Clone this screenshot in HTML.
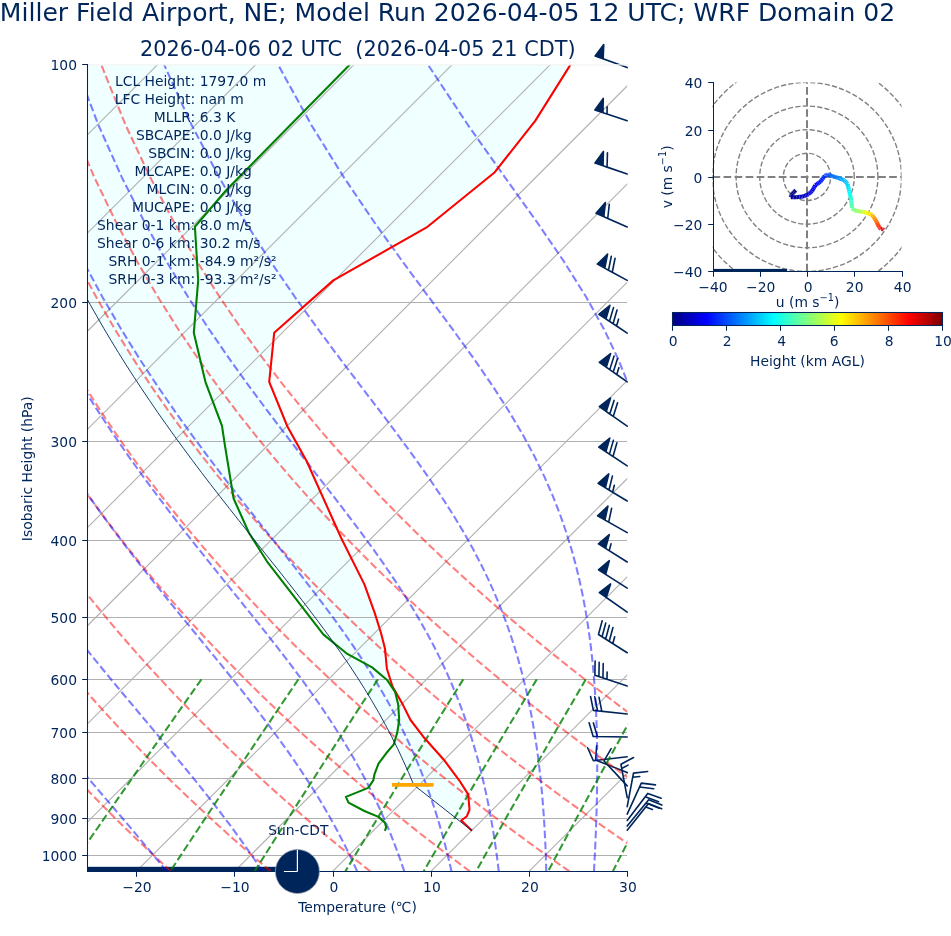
<!DOCTYPE html>
<html lang="en"><head><meta charset="utf-8"><title>Skew-T Miller Field Airport</title>
<style>html,body{margin:0;padding:0;background:#fff}svg{display:block;will-change:transform}</style></head>
<body>
<svg width="951" height="936" viewBox="0 0 951 936" font-family="'DejaVu Sans','Liberation Sans',sans-serif" fill="#00255a">
<rect width="951" height="936" fill="#fff"/>
<defs><clipPath id="ax"><rect x="87.20" y="64.40" width="540.00" height="807.00"/></clipPath>
<clipPath id="hd"><rect x="712.5" y="82.43" width="189" height="189"/></clipPath>
<linearGradient id="jet" x1="0" x2="1" y1="0" y2="0">
<stop offset="0.0000" stop-color="rgb(0,0,128)"/>
<stop offset="0.0156" stop-color="rgb(0,0,143)"/>
<stop offset="0.0312" stop-color="rgb(0,0,159)"/>
<stop offset="0.0469" stop-color="rgb(0,0,175)"/>
<stop offset="0.0625" stop-color="rgb(0,0,191)"/>
<stop offset="0.0781" stop-color="rgb(0,0,207)"/>
<stop offset="0.0938" stop-color="rgb(0,0,223)"/>
<stop offset="0.1094" stop-color="rgb(0,0,239)"/>
<stop offset="0.1250" stop-color="rgb(0,0,255)"/>
<stop offset="0.1406" stop-color="rgb(0,16,255)"/>
<stop offset="0.1562" stop-color="rgb(0,32,255)"/>
<stop offset="0.1719" stop-color="rgb(0,48,255)"/>
<stop offset="0.1875" stop-color="rgb(0,64,255)"/>
<stop offset="0.2031" stop-color="rgb(0,80,255)"/>
<stop offset="0.2188" stop-color="rgb(0,96,255)"/>
<stop offset="0.2344" stop-color="rgb(0,112,255)"/>
<stop offset="0.2500" stop-color="rgb(0,128,255)"/>
<stop offset="0.2656" stop-color="rgb(0,143,255)"/>
<stop offset="0.2812" stop-color="rgb(0,159,255)"/>
<stop offset="0.2969" stop-color="rgb(0,175,255)"/>
<stop offset="0.3125" stop-color="rgb(0,191,255)"/>
<stop offset="0.3281" stop-color="rgb(0,207,255)"/>
<stop offset="0.3438" stop-color="rgb(0,223,255)"/>
<stop offset="0.3594" stop-color="rgb(0,239,255)"/>
<stop offset="0.3750" stop-color="rgb(0,255,255)"/>
<stop offset="0.3906" stop-color="rgb(16,255,239)"/>
<stop offset="0.4062" stop-color="rgb(32,255,223)"/>
<stop offset="0.4219" stop-color="rgb(48,255,207)"/>
<stop offset="0.4375" stop-color="rgb(64,255,191)"/>
<stop offset="0.4531" stop-color="rgb(80,255,175)"/>
<stop offset="0.4688" stop-color="rgb(96,255,159)"/>
<stop offset="0.4844" stop-color="rgb(112,255,143)"/>
<stop offset="0.5000" stop-color="rgb(128,255,128)"/>
<stop offset="0.5156" stop-color="rgb(143,255,112)"/>
<stop offset="0.5312" stop-color="rgb(159,255,96)"/>
<stop offset="0.5469" stop-color="rgb(175,255,80)"/>
<stop offset="0.5625" stop-color="rgb(191,255,64)"/>
<stop offset="0.5781" stop-color="rgb(207,255,48)"/>
<stop offset="0.5938" stop-color="rgb(223,255,32)"/>
<stop offset="0.6094" stop-color="rgb(239,255,16)"/>
<stop offset="0.6250" stop-color="rgb(255,255,0)"/>
<stop offset="0.6406" stop-color="rgb(255,239,0)"/>
<stop offset="0.6562" stop-color="rgb(255,223,0)"/>
<stop offset="0.6719" stop-color="rgb(255,207,0)"/>
<stop offset="0.6875" stop-color="rgb(255,191,0)"/>
<stop offset="0.7031" stop-color="rgb(255,175,0)"/>
<stop offset="0.7188" stop-color="rgb(255,159,0)"/>
<stop offset="0.7344" stop-color="rgb(255,143,0)"/>
<stop offset="0.7500" stop-color="rgb(255,128,0)"/>
<stop offset="0.7656" stop-color="rgb(255,112,0)"/>
<stop offset="0.7812" stop-color="rgb(255,96,0)"/>
<stop offset="0.7969" stop-color="rgb(255,80,0)"/>
<stop offset="0.8125" stop-color="rgb(255,64,0)"/>
<stop offset="0.8281" stop-color="rgb(255,48,0)"/>
<stop offset="0.8438" stop-color="rgb(255,32,0)"/>
<stop offset="0.8594" stop-color="rgb(255,16,0)"/>
<stop offset="0.8750" stop-color="rgb(255,0,0)"/>
<stop offset="0.8906" stop-color="rgb(239,0,0)"/>
<stop offset="0.9062" stop-color="rgb(223,0,0)"/>
<stop offset="0.9219" stop-color="rgb(207,0,0)"/>
<stop offset="0.9375" stop-color="rgb(191,0,0)"/>
<stop offset="0.9531" stop-color="rgb(175,0,0)"/>
<stop offset="0.9688" stop-color="rgb(159,0,0)"/>
<stop offset="0.9844" stop-color="rgb(143,0,0)"/>
<stop offset="1.0000" stop-color="rgb(128,0,0)"/>
</linearGradient></defs>
<g clip-path="url(#ax)">
<polygon points="570.4,64.5 568.8,67.4 535.2,120.9 494.2,172.8 427.5,226.8 333.3,280.4 274.2,332.8 269.2,381.8 287.4,426.5 306.7,461.3 341.3,538.2 364.4,584.4 374.6,612.6 381.0,633.0 384.9,648.2 386.9,668.7 392.6,686.7 402.8,704.6 410.5,720.0 423.3,736.7 443.8,759.7 459.2,780.3 468.2,794.4 469.5,809.7 466.9,816.2 461.3,820.5 472.0,830.8 472.0,830.8 413.7,784.9 413.5,784.4 408.5,772.4 403.1,760.4 397.5,748.4 391.5,736.4 385.2,724.4 378.6,712.4 371.6,700.4 364.3,688.4 356.7,676.4 348.8,664.4 340.5,652.4 332.0,640.4 323.3,628.4 314.3,616.4 305.2,604.4 295.9,592.4 286.5,580.4 277.0,568.4 267.4,556.4 257.9,544.4 248.3,532.4 238.8,520.4 229.3,508.4 219.9,496.4 210.6,484.4 201.4,472.4 192.4,460.4 183.5,448.4 174.7,436.4 166.2,424.4 157.7,412.4 149.5,400.4 141.4,388.4 133.5,376.4 125.8,364.4 118.3,352.4 111.0,340.4 103.8,328.4 96.9,316.4 90.1,304.4 83.5,292.4 77.1,280.4 70.8,268.4 64.8,256.4 58.9,244.4 53.2,232.4 47.7,220.4 42.3,208.4 37.1,196.4 32.1,184.4 27.3,172.4 22.6,160.4 18.1,148.4 13.8,136.4 9.6,124.4 5.6,112.4 1.7,100.4 -2.0,88.4 -5.6,76.4 -8.9,64.4" fill="#f0ffff"/>
</g>
<g clip-path="url(#ax)" stroke="#b0b0b0" stroke-width="1.11" fill="none">
<line x1="87.20" y1="302.50" x2="627.20" y2="302.50"/>
<line x1="87.20" y1="441.50" x2="627.20" y2="441.50"/>
<line x1="87.20" y1="540.50" x2="627.20" y2="540.50"/>
<line x1="87.20" y1="617.50" x2="627.20" y2="617.50"/>
<line x1="87.20" y1="679.50" x2="627.20" y2="679.50"/>
<line x1="87.20" y1="732.50" x2="627.20" y2="732.50"/>
<line x1="87.20" y1="778.50" x2="627.20" y2="778.50"/>
<line x1="87.20" y1="818.50" x2="627.20" y2="818.50"/>
<line x1="87.20" y1="855.50" x2="627.20" y2="855.50"/>
<line x1="-1140.07" y1="871.40" x2="-333.07" y2="64.40"/>
<line x1="-1041.89" y1="871.40" x2="-234.89" y2="64.40"/>
<line x1="-943.71" y1="871.40" x2="-136.71" y2="64.40"/>
<line x1="-845.53" y1="871.40" x2="-38.53" y2="64.40"/>
<line x1="-747.35" y1="871.40" x2="59.65" y2="64.40"/>
<line x1="-649.16" y1="871.40" x2="157.84" y2="64.40"/>
<line x1="-550.98" y1="871.40" x2="256.02" y2="64.40"/>
<line x1="-452.80" y1="871.40" x2="354.20" y2="64.40"/>
<line x1="-354.62" y1="871.40" x2="452.38" y2="64.40"/>
<line x1="-256.44" y1="871.40" x2="550.56" y2="64.40"/>
<line x1="-158.25" y1="871.40" x2="648.75" y2="64.40"/>
<line x1="-60.07" y1="871.40" x2="746.93" y2="64.40"/>
<line x1="38.11" y1="871.40" x2="845.11" y2="64.40"/>
<line x1="136.29" y1="871.40" x2="943.29" y2="64.40"/>
<line x1="234.47" y1="871.40" x2="1041.47" y2="64.40"/>
<line x1="332.65" y1="871.40" x2="1139.65" y2="64.40"/>
<line x1="430.84" y1="871.40" x2="1237.84" y2="64.40"/>
<line x1="529.02" y1="871.40" x2="1336.02" y2="64.40"/>
<line x1="627.20" y1="871.40" x2="1434.20" y2="64.40"/>
<line x1="725.38" y1="871.40" x2="1532.38" y2="64.40"/>
</g>
<g stroke="#00255a" stroke-width="1.6" fill="#00255a" stroke-linejoin="round">
<polygon points="627.20,67.40 595.16,55.94 603.75,44.56 603.17,58.81"/>
<polygon points="627.20,120.70 594.91,109.97 603.24,98.39 602.98,112.65 607.02,113.99 607.14,106.86 607.02,113.99"/>
<polygon points="627.20,174.00 595.00,163.00 603.42,151.49 603.05,165.75 607.07,167.13 607.45,152.87 607.07,167.13"/>
<polygon points="627.20,227.00 596.03,213.35 605.38,202.59 603.82,216.77 607.72,218.47 609.28,204.30 607.72,218.47"/>
<polygon points="627.20,280.40 597.33,264.09 607.59,254.18 604.80,268.17 608.53,270.21 611.32,256.22 608.53,270.21 612.27,272.25 615.06,258.26 612.27,272.25"/>
<polygon points="627.20,333.10 598.87,314.25 609.95,305.27 605.95,318.96 609.49,321.32 613.49,307.63 609.49,321.32 613.04,323.67 617.04,309.98 613.04,323.67 616.58,326.03 618.58,319.19 616.58,326.03"/>
<polygon points="627.20,381.80 599.30,362.31 610.59,353.59 606.28,367.18 609.76,369.62 614.07,356.02 609.76,369.62 613.25,372.06 617.56,358.46 613.25,372.06 616.74,374.49 618.89,367.69 616.74,374.49"/>
<polygon points="627.20,426.20 599.30,406.71 610.59,397.99 606.28,411.58 609.76,414.02 614.07,400.42 609.76,414.02 613.25,416.46 617.56,402.86 613.25,416.46"/>
<polygon points="627.20,465.80 598.78,447.08 609.82,438.05 605.89,451.76 609.44,454.10 613.37,440.39 609.44,454.10 612.99,456.44 616.92,442.73 612.99,456.44"/>
<polygon points="627.20,501.00 598.08,483.39 608.76,473.94 605.36,487.79 609.00,489.99 612.40,476.15 609.00,489.99 612.64,492.20 614.34,485.27 612.64,492.20"/>
<polygon points="627.20,532.60 597.56,515.88 607.96,506.11 604.97,520.06 608.68,522.15 611.66,508.20 608.68,522.15"/>
<polygon points="627.20,562.00 598.42,543.84 609.28,534.60 605.62,548.38 609.21,550.65 611.05,543.76 609.21,550.65"/>
<polygon points="627.20,588.10 598.47,569.87 609.35,560.65 605.65,574.43"/>
<polygon points="627.20,612.10 599.30,592.61 610.59,583.89 606.28,597.48"/>
<polygon points="627.20,652.70 598.47,634.47 602.17,620.70 598.47,634.47 602.06,636.75 605.76,622.97 602.06,636.75 605.65,639.03 609.35,625.25 605.65,639.03 609.24,641.31 612.94,627.53 609.24,641.31 612.83,643.58 614.68,636.70 612.83,643.58"/>
<polygon points="627.20,685.90 594.89,675.23 595.12,660.97 594.89,675.23 598.93,676.56 599.16,662.30 598.93,676.56 602.97,677.90 603.20,663.64 602.97,677.90 607.00,679.23 607.12,672.10 607.00,679.23"/>
<polygon points="627.20,714.00 593.36,710.42 590.56,696.44 593.36,710.42 597.59,710.87 594.79,696.89 597.59,710.87 601.82,711.32 599.02,697.33 601.82,711.32"/>
<polygon points="627.20,737.00 593.17,736.51 589.11,722.84 593.17,736.51 597.43,736.57 593.37,722.90 597.43,736.57"/>
<polygon points="627.20,756.80 593.40,760.77 587.59,747.75 593.40,760.77"/>
<polygon points="627.20,772.60 595.58,760.03 596.65,745.81 595.58,760.03"/>
<polygon points="627.20,785.90 604.05,760.96 611.14,748.58 604.05,760.96"/>
<polygon points="627.20,797.70 620.95,764.25 633.55,757.57 620.95,764.25 621.73,768.43 628.03,765.09 621.73,768.43"/>
<polygon points="627.20,806.60 633.47,773.15 647.63,771.48 633.47,773.15 632.69,777.33 639.77,776.50 632.69,777.33"/>
<polygon points="627.20,814.10 641.30,783.13 655.46,784.90 641.30,783.13 639.54,787.00 653.69,788.77 639.54,787.00"/>
<polygon points="627.20,820.50 647.78,793.40 661.19,798.24 647.78,793.40 645.21,796.79 658.62,801.63 645.21,796.79"/>
<polygon points="627.20,826.10 648.67,799.70 661.91,804.98 648.67,799.70 645.98,803.00 659.23,808.28 645.98,803.00"/>
<polygon points="627.20,830.20 648.42,803.60 661.71,808.76 648.42,803.60 645.77,806.92 652.42,809.50 645.77,806.92"/>
</g>
<rect x="87.20" y="866.8" width="190" height="5.2" fill="#00255a"/>
<g clip-path="url(#ax)" fill="none" stroke-width="2.08" stroke-dasharray="7.71 3.33">
<g stroke="#ff0000" stroke-opacity="0.5">
<polyline points="-27.94,871.40 -33.87,865.00 -39.85,858.49 -45.87,851.84 -51.94,845.07 -58.06,838.16 -64.22,831.10 -70.44,823.90 -76.70,816.54 -83.02,809.03 -89.39,801.34 -95.81,793.48 -102.29,785.43 -108.82,777.19 -115.41,768.75 -122.05,760.10 -128.76,751.22 -135.52,742.11 -142.34,732.74 -149.22,723.12 -156.16,713.21 -163.17,703.02 -170.23,692.51 -177.36,681.66 -184.55,670.47 -191.81,658.90 -199.13,646.92 -206.51,634.51 -213.95,621.63 -221.46,608.25 -229.02,594.33 -236.64,579.83 -244.31,564.68 -252.03,548.83 -259.79,532.21 -267.59,514.75 -275.41,496.35 -283.24,476.91 -291.06,456.30 -298.86,434.37 -306.59,410.95 -314.22,385.81 -321.69,358.68 -328.92,329.22 -335.82,297.00 -342.24,261.43 -347.95,221.74 -352.64,176.86 -355.79,125.22 -356.54,64.40"/>
<polyline points="71.62,871.40 65.16,865.00 58.65,858.49 52.08,851.84 45.46,845.07 38.79,838.16 32.05,831.10 25.26,823.90 18.41,816.54 11.50,809.03 4.53,801.34 -2.51,793.48 -9.61,785.43 -16.77,777.19 -24.00,768.75 -31.31,760.10 -38.68,751.22 -46.12,742.11 -53.63,732.74 -61.22,723.12 -68.89,713.21 -76.63,703.02 -84.45,692.51 -92.35,681.66 -100.33,670.47 -108.39,658.90 -116.54,646.92 -124.77,634.51 -133.08,621.63 -141.48,608.25 -149.97,594.33 -158.53,579.83 -167.19,564.68 -175.92,548.83 -184.73,532.21 -193.61,514.75 -202.55,496.35 -211.55,476.91 -220.59,456.30 -229.66,434.37 -238.73,410.95 -247.76,385.81 -256.72,358.68 -265.53,329.22 -274.11,297.00 -282.32,261.43 -289.98,221.74 -296.80,176.86 -302.29,125.22 -305.69,64.40"/>
<polyline points="171.18,871.40 164.19,865.00 157.14,858.49 150.04,851.84 142.86,845.07 135.63,838.16 128.33,831.10 120.96,823.90 113.53,816.54 106.02,809.03 98.45,801.34 90.80,793.48 83.08,785.43 75.28,777.19 67.40,768.75 59.44,760.10 51.41,751.22 43.28,742.11 35.07,732.74 26.78,723.12 18.39,713.21 9.91,703.02 1.34,692.51 -7.33,681.66 -16.10,670.47 -24.97,658.90 -33.95,646.92 -43.03,634.51 -52.21,621.63 -61.51,608.25 -70.91,594.33 -80.43,579.83 -90.06,564.68 -99.80,548.83 -109.66,532.21 -119.62,514.75 -129.69,496.35 -139.86,476.91 -150.12,456.30 -160.47,434.37 -170.87,410.95 -181.31,385.81 -191.75,358.68 -202.13,329.22 -212.39,297.00 -222.41,261.43 -232.01,221.74 -240.95,176.86 -248.80,125.22 -254.84,64.40"/>
<polyline points="270.74,871.40 263.22,865.00 255.64,858.49 247.99,851.84 240.26,845.07 232.47,838.16 224.60,831.10 216.66,823.90 208.64,816.54 200.55,809.03 192.37,801.34 184.11,793.48 175.76,785.43 167.33,777.19 158.81,768.75 150.19,760.10 141.49,751.22 132.68,742.11 123.78,732.74 114.77,723.12 105.67,713.21 96.45,703.02 87.12,692.51 77.68,681.66 68.12,670.47 58.44,658.90 48.64,646.92 38.71,634.51 28.66,621.63 18.46,608.25 8.14,594.33 -2.33,579.83 -12.94,564.68 -23.69,548.83 -34.59,532.21 -45.64,514.75 -56.83,496.35 -68.17,476.91 -79.65,456.30 -91.27,434.37 -103.01,410.95 -114.85,385.81 -126.78,358.68 -138.74,329.22 -150.67,297.00 -162.49,261.43 -174.04,221.74 -185.11,176.86 -195.30,125.22 -203.98,64.40"/>
<polyline points="370.30,871.40 362.26,865.00 354.14,858.49 345.94,851.84 337.67,845.07 329.31,838.16 320.88,831.10 312.36,823.90 303.76,816.54 295.07,809.03 286.29,801.34 277.41,793.48 268.45,785.43 259.38,777.19 250.21,768.75 240.94,760.10 231.57,751.22 222.08,742.11 212.49,732.74 202.77,723.12 192.94,713.21 182.99,703.02 172.90,692.51 162.69,681.66 152.35,670.47 141.86,658.90 131.23,646.92 120.45,634.51 109.52,621.63 98.44,608.25 87.19,594.33 75.77,579.83 64.19,564.68 52.42,548.83 40.48,532.21 28.35,514.75 16.03,496.35 3.52,476.91 -9.18,456.30 -22.07,434.37 -35.15,410.95 -48.40,385.81 -61.81,358.68 -75.34,329.22 -88.95,297.00 -102.57,261.43 -116.07,221.74 -129.26,176.86 -141.81,125.22 -153.13,64.40"/>
<polyline points="469.86,871.40 461.29,865.00 452.63,858.49 443.89,851.84 435.07,845.07 426.16,838.16 417.15,831.10 408.06,823.90 398.87,816.54 389.59,809.03 380.21,801.34 370.72,793.48 361.13,785.43 351.43,777.19 341.62,768.75 331.69,760.10 321.65,751.22 311.48,742.11 301.19,732.74 290.77,723.12 280.22,713.21 269.52,703.02 258.69,692.51 247.71,681.66 236.57,670.47 225.28,658.90 213.82,646.92 202.19,634.51 190.39,621.63 178.41,608.25 166.24,594.33 153.88,579.83 141.31,564.68 128.54,548.83 115.54,532.21 102.33,514.75 88.89,496.35 75.21,476.91 61.29,456.30 47.12,434.37 32.71,410.95 18.05,385.81 3.16,358.68 -11.94,329.22 -27.24,297.00 -42.65,261.43 -58.10,221.74 -73.42,176.86 -88.32,125.22 -102.28,64.40"/>
<polyline points="569.42,871.40 560.32,865.00 551.13,858.49 541.84,851.84 532.47,845.07 523.00,838.16 513.43,831.10 503.76,823.90 493.99,816.54 484.11,809.03 474.13,801.34 464.03,793.48 453.81,785.43 443.48,777.19 433.02,768.75 422.44,760.10 411.73,751.22 400.88,742.11 389.90,732.74 378.77,723.12 367.49,713.21 356.06,703.02 344.47,692.51 332.72,681.66 320.79,670.47 308.69,658.90 296.41,646.92 283.94,634.51 271.26,621.63 258.39,608.25 245.29,594.33 231.98,579.83 218.43,564.68 204.65,548.83 190.61,532.21 176.31,514.75 161.75,496.35 146.90,476.91 131.76,456.30 116.32,434.37 100.57,410.95 84.51,385.81 68.13,358.68 51.45,329.22 34.48,297.00 17.26,261.43 -0.13,221.74 -17.57,176.86 -34.82,125.22 -51.43,64.40"/>
<polyline points="668.98,871.40 659.35,865.00 649.62,858.49 639.80,851.84 629.87,845.07 619.84,838.16 609.71,831.10 599.46,823.90 589.11,816.54 578.63,809.03 568.05,801.34 557.33,793.48 546.50,785.43 535.53,777.19 524.43,768.75 513.19,760.10 501.81,751.22 490.28,742.11 478.60,732.74 466.77,723.12 454.77,713.21 442.60,703.02 430.26,692.51 417.73,681.66 405.02,670.47 392.11,658.90 379.00,646.92 365.68,634.51 352.13,621.63 338.36,608.25 324.35,594.33 310.08,579.83 295.56,564.68 280.76,548.83 265.68,532.21 250.30,514.75 234.61,496.35 218.59,476.91 202.23,456.30 185.51,434.37 168.43,410.95 150.96,385.81 133.10,358.68 114.85,329.22 96.20,297.00 77.18,261.43 57.84,221.74 38.27,176.86 18.67,125.22 -0.57,64.40"/>
<polyline points="768.54,871.40 758.38,865.00 748.12,858.49 737.75,851.84 727.27,845.07 716.68,838.16 705.98,831.10 695.16,823.90 684.22,816.54 673.16,809.03 661.97,801.34 650.64,793.48 639.18,785.43 627.58,777.19 615.84,768.75 603.94,760.10 591.89,751.22 579.68,742.11 567.31,732.74 554.77,723.12 542.04,713.21 529.14,703.02 516.04,692.51 502.75,681.66 489.24,670.47 475.53,658.90 461.59,646.92 447.42,634.51 433.00,621.63 418.33,608.25 403.40,594.33 388.19,579.83 372.68,564.68 356.87,548.83 340.75,532.21 324.28,514.75 307.47,496.35 290.28,476.91 272.70,456.30 254.71,434.37 236.29,410.95 217.42,385.81 198.07,358.68 178.24,329.22 157.92,297.00 137.10,261.43 115.81,221.74 94.11,176.86 72.17,125.22 50.28,64.40"/>
<polyline points="868.10,871.40 857.41,865.00 846.61,858.49 835.70,851.84 824.67,845.07 813.53,838.16 802.26,831.10 790.86,823.90 779.34,816.54 767.68,809.03 755.88,801.34 743.95,793.48 731.86,785.43 719.63,777.19 707.24,768.75 694.69,760.10 681.97,751.22 669.08,742.11 656.02,732.74 642.76,723.12 629.32,713.21 615.68,703.02 601.82,692.51 587.76,681.66 573.47,670.47 558.95,658.90 544.18,646.92 529.16,634.51 513.87,621.63 498.31,608.25 482.45,594.33 466.29,579.83 449.81,564.68 432.99,548.83 415.81,532.21 398.27,514.75 380.33,496.35 361.97,476.91 343.17,456.30 323.90,434.37 304.15,410.95 283.87,385.81 263.04,358.68 241.64,329.22 219.64,297.00 197.02,261.43 173.78,221.74 149.96,176.86 125.66,125.22 101.13,64.40"/>
</g>
<g stroke="#0000ff" stroke-opacity="0.5">
<polyline points="-28.82,871.40 -34.39,865.00 -40.03,858.49 -45.74,851.84 -51.53,845.07 -57.39,838.16 -63.32,831.10 -69.33,823.90 -75.41,816.54 -81.56,809.03 -87.78,801.34 -94.07,793.48 -100.43,785.43 -106.86,777.19 -113.36,768.75 -119.94,760.10 -126.58,751.22 -133.29,742.11 -140.07,732.74 -146.92,723.12 -153.84,713.21 -160.83,703.02 -167.88,692.51 -175.01,681.66 -182.20,670.47 -189.46,658.90 -196.79,646.92 -204.19,634.51 -211.65,621.63 -219.17,608.25 -226.75,594.33 -234.40,579.83 -242.09,564.68 -249.84,548.83 -257.63,532.21 -265.46,514.75 -273.31,496.35 -281.18,476.91 -289.03,456.30 -296.86,434.37 -304.63,410.95 -312.30,385.81 -319.81,358.68 -327.10,329.22 -334.05,297.00 -340.51,261.43 -346.28,221.74 -351.03,176.86 -354.24,125.22 -355.08,64.40"/>
<polyline points="69.49,871.40 63.90,865.00 58.20,858.49 52.40,851.84 46.48,845.07 40.45,838.16 34.31,831.10 28.07,823.90 21.71,816.54 15.25,809.03 8.68,801.34 2.01,793.48 -4.77,785.43 -11.65,777.19 -18.63,768.75 -25.72,760.10 -32.90,751.22 -40.19,742.11 -47.58,732.74 -55.06,723.12 -62.65,713.21 -70.33,703.02 -78.11,692.51 -85.98,681.66 -93.96,670.47 -102.02,658.90 -110.19,646.92 -118.44,634.51 -126.80,621.63 -135.24,608.25 -143.78,594.33 -152.41,579.83 -161.12,564.68 -169.93,548.83 -178.81,532.21 -187.77,514.75 -196.80,496.35 -205.89,476.91 -215.03,456.30 -224.20,434.37 -233.37,410.95 -242.51,385.81 -251.59,358.68 -260.52,329.22 -269.23,297.00 -277.59,261.43 -285.41,221.74 -292.39,176.86 -298.07,125.22 -301.68,64.40"/>
<polyline points="166.67,871.40 161.51,865.00 156.19,858.49 150.71,851.84 145.09,845.07 139.30,838.16 133.36,831.10 127.26,823.90 121.00,816.54 114.58,809.03 108.01,801.34 101.27,793.48 94.37,785.43 87.31,777.19 80.10,768.75 72.73,760.10 65.20,751.22 57.53,742.11 49.70,732.74 41.72,723.12 33.59,713.21 25.31,703.02 16.90,692.51 8.33,681.66 -0.37,670.47 -9.21,658.90 -18.19,646.92 -27.30,634.51 -36.56,621.63 -45.94,608.25 -55.46,594.33 -65.11,579.83 -74.89,564.68 -84.80,548.83 -94.84,532.21 -105.00,514.75 -115.28,496.35 -125.68,476.91 -136.17,456.30 -146.77,434.37 -157.43,410.95 -168.15,385.81 -178.88,358.68 -189.58,329.22 -200.17,297.00 -210.54,261.43 -220.53,221.74 -229.89,176.86 -238.20,125.22 -244.77,64.40"/>
<polyline points="262.47,871.40 258.24,865.00 253.84,858.49 249.27,851.84 244.51,845.07 239.57,838.16 234.43,831.10 229.09,823.90 223.54,816.54 217.78,809.03 211.80,801.34 205.60,793.48 199.17,785.43 192.51,777.19 185.62,768.75 178.50,760.10 171.13,751.22 163.53,742.11 155.69,732.74 147.61,723.12 139.30,713.21 130.75,703.02 121.97,692.51 112.96,681.66 103.73,670.47 94.27,658.90 84.60,646.92 74.71,634.51 64.61,621.63 54.30,608.25 43.80,594.33 33.09,579.83 22.18,564.68 11.09,548.83 -0.20,532.21 -11.68,514.75 -23.34,496.35 -35.19,476.91 -47.21,456.30 -59.39,434.37 -71.74,410.95 -84.22,385.81 -96.83,358.68 -109.51,329.22 -122.22,297.00 -134.86,261.43 -147.32,221.74 -159.36,176.86 -170.64,125.22 -180.54,64.40"/>
<polyline points="357.15,871.40 354.26,865.00 351.23,858.49 348.04,851.84 344.69,845.07 341.16,838.16 337.45,831.10 333.55,823.90 329.45,816.54 325.12,809.03 320.57,801.34 315.77,793.48 310.72,785.43 305.40,777.19 299.80,768.75 293.90,760.10 287.70,751.22 281.17,742.11 274.31,732.74 267.11,723.12 259.56,713.21 251.64,703.02 243.35,692.51 234.69,681.66 225.65,670.47 216.24,658.90 206.44,646.92 196.27,634.51 185.73,621.63 174.83,608.25 163.57,594.33 151.95,579.83 140.00,564.68 127.72,548.83 115.12,532.21 102.21,514.75 88.99,496.35 75.47,476.91 61.66,456.30 47.57,434.37 33.21,410.95 18.57,385.81 3.69,358.68 -11.42,329.22 -26.71,297.00 -42.15,261.43 -57.61,221.74 -72.94,176.86 -87.86,125.22 -101.85,64.40"/>
<polyline points="404.30,871.40 402.14,865.00 399.87,858.49 397.46,851.84 394.92,845.07 392.23,838.16 389.39,831.10 386.38,823.90 383.19,816.54 379.82,809.03 376.23,801.34 372.43,793.48 368.39,785.43 364.10,777.19 359.55,768.75 354.71,760.10 349.56,751.22 344.09,742.11 338.27,732.74 332.09,723.12 325.53,713.21 318.56,703.02 311.16,692.51 303.33,681.66 295.03,670.47 286.26,658.90 277.01,646.92 267.27,634.51 257.03,621.63 246.29,608.25 235.06,594.33 223.34,579.83 211.14,564.68 198.47,548.83 185.34,532.21 171.78,514.75 157.79,496.35 143.39,476.91 128.59,456.30 113.41,434.37 97.86,410.95 81.94,385.81 65.68,358.68 49.09,329.22 32.20,297.00 15.06,261.43 -2.26,221.74 -19.62,176.86 -36.78,125.22 -53.29,64.40"/>
<polyline points="451.48,871.40 450.04,865.00 448.51,858.49 446.88,851.84 445.16,845.07 443.32,838.16 441.36,831.10 439.27,823.90 437.04,816.54 434.66,809.03 432.12,801.34 429.40,793.48 426.49,785.43 423.37,777.19 420.03,768.75 416.44,760.10 412.59,751.22 408.46,742.11 404.01,732.74 399.22,723.12 394.08,713.21 388.53,703.02 382.56,692.51 376.14,681.66 369.22,670.47 361.79,658.90 353.79,646.92 345.21,634.51 336.02,621.63 326.18,608.25 315.68,594.33 304.52,579.83 292.67,564.68 280.13,548.83 266.93,532.21 253.07,514.75 238.56,496.35 223.44,476.91 207.73,456.30 191.45,434.37 174.63,410.95 157.30,385.81 139.46,358.68 121.15,329.22 102.40,297.00 83.23,261.43 63.70,221.74 43.92,176.86 24.09,125.22 4.58,64.40"/>
<polyline points="498.78,871.40 498.01,865.00 497.18,858.49 496.29,851.84 495.33,845.07 494.29,838.16 493.17,831.10 491.96,823.90 490.66,816.54 489.25,809.03 487.73,801.34 486.08,793.48 484.29,785.43 482.36,777.19 480.27,768.75 477.99,760.10 475.52,751.22 472.83,742.11 469.90,732.74 466.71,723.12 463.23,713.21 459.42,703.02 455.26,692.51 450.72,681.66 445.73,670.47 440.27,658.90 434.29,646.92 427.72,634.51 420.52,621.63 412.63,608.25 403.98,594.33 394.53,579.83 384.21,564.68 372.99,548.83 360.81,532.21 347.66,514.75 333.53,496.35 318.42,476.91 302.34,456.30 285.35,434.37 267.47,410.95 248.76,385.81 229.26,358.68 209.02,329.22 188.09,297.00 166.50,261.43 144.31,221.74 121.60,176.86 98.50,125.22 75.32,64.40"/>
<polyline points="546.27,871.40 546.10,865.00 545.90,858.49 545.66,851.84 545.38,845.07 545.07,838.16 544.70,831.10 544.29,823.90 543.82,816.54 543.29,809.03 542.69,801.34 542.02,793.48 541.27,785.43 540.42,777.19 539.48,768.75 538.43,760.10 537.25,751.22 535.93,742.11 534.47,732.74 532.83,723.12 531.00,713.21 528.96,703.02 526.68,692.51 524.13,681.66 521.27,670.47 518.07,658.90 514.47,646.92 510.44,634.51 505.90,621.63 500.79,608.25 495.02,594.33 488.53,579.83 481.19,564.68 472.92,548.83 463.60,532.21 453.10,514.75 441.33,496.35 428.17,476.91 413.55,456.30 397.42,434.37 379.76,410.95 360.60,385.81 340.01,358.68 318.07,329.22 294.90,297.00 270.58,261.43 245.22,221.74 218.90,176.86 191.75,125.22 163.98,64.40"/>
<polyline points="593.97,871.40 594.32,865.00 594.66,858.49 594.99,851.84 595.31,845.07 595.61,838.16 595.89,831.10 596.16,823.90 596.40,816.54 596.62,809.03 596.82,801.34 596.98,793.48 597.11,785.43 597.19,777.19 597.23,768.75 597.23,760.10 597.16,751.22 597.03,742.11 596.82,732.74 596.53,723.12 596.15,713.21 595.65,703.02 595.03,692.51 594.26,681.66 593.33,670.47 592.21,658.90 590.87,646.92 589.27,634.51 587.38,621.63 585.14,608.25 582.49,594.33 579.37,579.83 575.69,564.68 571.34,548.83 566.20,532.21 560.14,514.75 552.96,496.35 544.47,476.91 534.44,456.30 522.61,434.37 508.72,410.95 492.52,385.81 473.83,358.68 452.55,329.22 428.70,297.00 402.44,261.43 373.98,221.74 343.58,176.86 311.47,125.22 277.89,64.40"/>
<polyline points="641.91,871.40 642.69,865.00 643.48,858.49 644.28,851.84 645.09,845.07 645.90,838.16 646.72,831.10 647.54,823.90 648.37,816.54 649.21,809.03 650.05,801.34 650.89,793.48 651.73,785.43 652.57,777.19 653.41,768.75 654.24,760.10 655.07,751.22 655.89,742.11 656.69,732.74 657.48,723.12 658.24,713.21 658.98,703.02 659.68,692.51 660.34,681.66 660.95,670.47 661.49,658.90 661.96,646.92 662.33,634.51 662.59,621.63 662.71,608.25 662.66,594.33 662.41,579.83 661.91,564.68 661.10,548.83 659.91,532.21 658.25,514.75 656.01,496.35 653.04,476.91 649.13,456.30 644.05,434.37 637.47,410.95 628.97,385.81 618.03,358.68 603.99,329.22 586.16,297.00 563.87,261.43 536.69,221.74 504.60,176.86 468.06,125.22 427.78,64.40"/>
<polyline points="690.07,871.40 691.20,865.00 692.36,858.49 693.53,851.84 694.73,845.07 695.95,838.16 697.20,831.10 698.47,823.90 699.77,816.54 701.09,809.03 702.43,801.34 703.81,793.48 705.21,785.43 706.64,777.19 708.09,768.75 709.58,760.10 711.09,751.22 712.64,742.11 714.21,732.74 715.82,723.12 717.45,713.21 719.12,703.02 720.81,692.51 722.53,681.66 724.28,670.47 726.05,658.90 727.85,646.92 729.66,634.51 731.49,621.63 733.33,608.25 735.16,594.33 736.99,579.83 738.79,564.68 740.55,548.83 742.23,532.21 743.82,514.75 745.27,496.35 746.52,476.91 747.49,456.30 748.07,434.37 748.12,410.95 747.42,385.81 745.65,358.68 742.37,329.22 736.91,297.00 728.25,261.43 714.91,221.74 694.80,176.86 665.52,125.22 625.38,64.40"/>
<polyline points="738.43,871.40 739.84,865.00 741.28,858.49 742.75,851.84 744.26,845.07 745.80,838.16 747.37,831.10 748.99,823.90 750.64,816.54 752.33,809.03 754.07,801.34 755.85,793.48 757.67,785.43 759.54,777.19 761.47,768.75 763.44,760.10 765.47,751.22 767.55,742.11 769.70,732.74 771.90,723.12 774.17,713.21 776.51,703.02 778.92,692.51 781.41,681.66 783.97,670.47 786.62,658.90 789.35,646.92 792.17,634.51 795.09,621.63 798.11,608.25 801.23,594.33 804.46,579.83 807.80,564.68 811.26,548.83 814.84,532.21 818.55,514.75 822.38,496.35 826.33,476.91 830.40,456.30 834.58,434.37 838.83,410.95 843.12,385.81 847.39,358.68 851.52,329.22 855.32,297.00 858.46,261.43 860.39,221.74 860.04,176.86 855.41,125.22 842.47,64.40"/>
<polyline points="786.97,871.40 788.59,865.00 790.24,858.49 791.94,851.84 793.67,845.07 795.45,838.16 797.28,831.10 799.15,823.90 801.07,816.54 803.04,809.03 805.06,801.34 807.14,793.48 809.28,785.43 811.48,777.19 813.74,768.75 816.07,760.10 818.47,751.22 820.95,742.11 823.50,732.74 826.14,723.12 828.86,713.21 831.68,703.02 834.59,692.51 837.61,681.66 840.75,670.47 844.00,658.90 847.37,646.92 850.88,634.51 854.54,621.63 858.35,608.25 862.33,594.33 866.48,579.83 870.83,564.68 875.40,548.83 880.19,532.21 885.23,514.75 890.54,496.35 896.15,476.91 902.09,456.30 908.40,434.37 915.10,410.95 922.25,385.81 929.89,358.68 938.07,329.22 946.85,297.00 956.27,261.43 966.37,221.74 977.10,176.86 988.28,125.22 999.23,64.40"/>
<polyline points="835.65,871.40 837.42,865.00 839.24,858.49 841.10,851.84 843.00,845.07 844.95,838.16 846.96,831.10 849.01,823.90 851.13,816.54 853.30,809.03 855.53,801.34 857.82,793.48 860.18,785.43 862.61,777.19 865.11,768.75 867.69,760.10 870.36,751.22 873.11,742.11 875.95,732.74 878.88,723.12 881.92,713.21 885.07,703.02 888.33,692.51 891.72,681.66 895.24,670.47 898.89,658.90 902.70,646.92 906.68,634.51 910.82,621.63 915.15,608.25 919.69,594.33 924.45,579.83 929.45,564.68 934.72,548.83 940.28,532.21 946.15,514.75 952.38,496.35 959.01,476.91 966.08,456.30 973.64,434.37 981.77,410.95 990.55,385.81 1000.07,358.68 1010.45,329.22 1021.86,297.00 1034.49,261.43 1048.59,221.74 1064.51,176.86 1082.71,125.22 1103.83,64.40"/>
</g>
<g stroke="#008000" stroke-opacity="0.8">
<polyline points="201.42,679.34 195.25,688.10 189.23,696.65 183.37,704.98 177.65,713.12 172.07,721.07 166.62,728.84 161.29,736.44 156.09,743.88 151.00,751.15 146.02,758.28 141.15,765.26 136.37,772.10 131.70,778.81 127.12,785.39 122.63,791.84 118.22,798.18 113.90,804.40 109.66,810.51 105.49,816.52 101.40,822.42 97.39,828.22 93.44,833.92 89.56,839.53 85.74,845.05 81.99,850.49 78.30,855.84 74.67,861.10 71.10,866.29 67.58,871.40"/>
<polyline points="298.38,679.34 292.45,688.10 286.68,696.65 281.05,704.98 275.57,713.12 270.21,721.07 264.99,728.84 259.88,736.44 254.90,743.88 250.02,751.15 245.25,758.28 240.58,765.26 236.01,772.10 231.53,778.81 227.15,785.39 222.85,791.84 218.63,798.18 214.49,804.40 210.44,810.51 206.45,816.52 202.54,822.42 198.70,828.22 194.92,833.92 191.21,839.53 187.57,845.05 183.98,850.49 180.45,855.84 176.98,861.10 173.57,866.29 170.21,871.40"/>
<polyline points="377.88,679.34 372.17,688.10 366.60,696.65 361.18,704.98 355.89,713.12 350.74,721.07 345.70,728.84 340.79,736.44 335.98,743.88 331.29,751.15 326.70,758.28 322.20,765.26 317.80,772.10 313.50,778.81 309.28,785.39 305.14,791.84 301.09,798.18 297.11,804.40 293.21,810.51 289.38,816.52 285.62,822.42 281.93,828.22 278.30,833.92 274.74,839.53 271.23,845.05 267.79,850.49 264.40,855.84 261.07,861.10 257.79,866.29 254.57,871.40"/>
<polyline points="463.25,679.34 457.77,688.10 452.43,696.65 447.24,704.98 442.17,713.12 437.23,721.07 432.41,728.84 427.71,736.44 423.11,743.88 418.62,751.15 414.22,758.28 409.93,765.26 405.72,772.10 401.60,778.81 397.57,785.39 393.62,791.84 389.74,798.18 385.94,804.40 382.22,810.51 378.56,816.52 374.97,822.42 371.44,828.22 367.98,833.92 364.58,839.53 361.24,845.05 357.95,850.49 354.72,855.84 351.55,861.10 348.42,866.29 345.34,871.40"/>
<polyline points="536.75,679.34 531.48,688.10 526.36,696.65 521.36,704.98 516.50,713.12 511.75,721.07 507.12,728.84 502.60,736.44 498.19,743.88 493.88,751.15 489.66,758.28 485.54,765.26 481.50,772.10 477.55,778.81 473.69,785.39 469.90,791.84 466.18,798.18 462.54,804.40 458.97,810.51 455.47,816.52 452.03,822.42 448.66,828.22 445.34,833.92 442.09,839.53 438.89,845.05 435.75,850.49 432.65,855.84 429.62,861.10 426.63,866.29 423.69,871.40"/>
<polyline points="585.83,679.34 580.71,688.10 575.72,696.65 570.86,704.98 566.13,713.12 561.52,721.07 557.02,728.84 552.63,736.44 548.35,743.88 544.16,751.15 540.06,758.28 536.06,765.26 532.14,772.10 528.31,778.81 524.55,785.39 520.88,791.84 517.27,798.18 513.74,804.40 510.28,810.51 506.88,816.52 503.55,822.42 500.28,828.22 497.06,833.92 493.91,839.53 490.81,845.05 487.76,850.49 484.77,855.84 481.82,861.10 478.93,866.29 476.08,871.40"/>
<polyline points="653.17,679.34 648.25,688.10 643.46,696.65 638.80,704.98 634.26,713.12 629.84,721.07 625.52,728.84 621.31,736.44 617.20,743.88 613.19,751.15 609.26,758.28 605.43,765.26 601.67,772.10 598.00,778.81 594.41,785.39 590.89,791.84 587.44,798.18 584.06,804.40 580.75,810.51 577.50,816.52 574.32,822.42 571.19,828.22 568.12,833.92 565.10,839.53 562.14,845.05 559.23,850.49 556.37,855.84 553.56,861.10 550.80,866.29 548.08,871.40"/>
<polyline points="713.63,679.34 708.89,688.10 704.29,696.65 699.81,704.98 695.44,713.12 691.19,721.07 687.04,728.84 683.00,736.44 679.05,743.88 675.20,751.15 671.43,758.28 667.75,765.26 664.15,772.10 660.63,778.81 657.19,785.39 653.81,791.84 650.51,798.18 647.27,804.40 644.10,810.51 640.99,816.52 637.93,822.42 634.94,828.22 632.00,833.92 629.12,839.53 626.28,845.05 623.50,850.49 620.76,855.84 618.08,861.10 615.43,866.29 612.84,871.40"/>
<polyline points="757.75,679.34 753.15,688.10 748.68,696.65 744.33,704.98 740.10,713.12 735.98,721.07 731.96,728.84 728.04,736.44 724.21,743.88 720.48,751.15 716.83,758.28 713.27,765.26 709.78,772.10 706.37,778.81 703.04,785.39 699.77,791.84 696.57,798.18 693.44,804.40 690.37,810.51 687.36,816.52 684.41,822.42 681.51,828.22 678.67,833.92 675.89,839.53 673.15,845.05 670.46,850.49 667.82,855.84 665.22,861.10 662.67,866.29 660.16,871.40"/>
</g>
</g>
<g clip-path="url(#ax)" fill="none" stroke-linejoin="round">
<polyline points="570.4,64.5 568.8,67.4 535.2,120.9 494.2,172.8 427.5,226.8 333.3,280.4 274.2,332.8 269.2,381.8 287.4,426.5 306.7,461.3 341.3,538.2 364.4,584.4 374.6,612.6 381.0,633.0 384.9,648.2 386.9,668.7 392.6,686.7 402.8,704.6 410.5,720.0 423.3,736.7 443.8,759.7 459.2,780.3 468.2,794.4 469.5,809.7 466.9,816.2 461.3,820.5 472.0,830.8" stroke="#ff0000" stroke-width="2.08"/>
<polyline points="350.0,64.5 347.0,67.4 226.4,190.0 194.9,226.7 198.2,280.3 193.8,332.8 205.4,381.8 222.0,425.9 224.6,443.3 233.6,498.5 249.0,533.0 266.9,561.3 292.6,594.6 323.3,634.4 346.4,653.3 372.1,667.4 387.4,680.3 395.1,691.8 398.2,704.6 399.2,720.0 397.2,732.8 393.8,744.4 386.2,753.3 378.5,763.6 374.6,773.8 373.3,780.3 368.2,787.9 345.9,796.9 348.5,802.6 364.4,811.0 378.5,816.9 384.9,822.6 386.2,827.2 384.9,830.8" stroke="#008000" stroke-width="2.08"/>
<polyline points="-8.9,64.4 -5.6,76.4 -2.0,88.4 1.7,100.4 5.6,112.4 9.6,124.4 13.8,136.4 18.1,148.4 22.6,160.4 27.3,172.4 32.1,184.4 37.1,196.4 42.3,208.4 47.7,220.4 53.2,232.4 58.9,244.4 64.8,256.4 70.8,268.4 77.1,280.4 83.5,292.4 90.1,304.4 96.9,316.4 103.8,328.4 111.0,340.4 118.3,352.4 125.8,364.4 133.5,376.4 141.4,388.4 149.5,400.4 157.7,412.4 166.2,424.4 174.7,436.4 183.5,448.4 192.4,460.4 201.4,472.4 210.6,484.4 219.9,496.4 229.3,508.4 238.8,520.4 248.3,532.4 257.9,544.4 267.4,556.4 277.0,568.4 286.5,580.4 295.9,592.4 305.2,604.4 314.3,616.4 323.3,628.4 332.0,640.4 340.5,652.4 348.8,664.4 356.7,676.4 364.3,688.4 371.6,700.4 378.6,712.4 385.2,724.4 391.5,736.4 397.5,748.4 403.1,760.4 408.5,772.4 413.5,784.4 413.7,784.9 472.0,830.8" stroke="#00255a" stroke-width="0.9"/>
<line x1="392" y1="784.9" x2="433.6" y2="784.9" stroke="#ffa500" stroke-width="3.6"/>
</g>
<path d="M87.20 64.90H627.20" stroke="#f3f3f3" stroke-width="1.1" fill="none"/>
<g stroke="#00255a" stroke-width="1.05" fill="none">
<line x1="87.50" y1="64.00" x2="87.50" y2="872.00"/>
<line x1="87.00" y1="871.50" x2="628.00" y2="871.50"/>
<line x1="82.20" y1="64.50" x2="87.50" y2="64.50"/>
<line x1="82.20" y1="302.50" x2="87.50" y2="302.50"/>
<line x1="82.20" y1="441.50" x2="87.50" y2="441.50"/>
<line x1="82.20" y1="540.50" x2="87.50" y2="540.50"/>
<line x1="82.20" y1="617.50" x2="87.50" y2="617.50"/>
<line x1="82.20" y1="679.50" x2="87.50" y2="679.50"/>
<line x1="82.20" y1="732.50" x2="87.50" y2="732.50"/>
<line x1="82.20" y1="778.50" x2="87.50" y2="778.50"/>
<line x1="82.20" y1="818.50" x2="87.50" y2="818.50"/>
<line x1="82.20" y1="855.50" x2="87.50" y2="855.50"/>
<line x1="136.50" y1="871.50" x2="136.50" y2="876.80"/>
<line x1="234.50" y1="871.50" x2="234.50" y2="876.80"/>
<line x1="333.50" y1="871.50" x2="333.50" y2="876.80"/>
<line x1="431.50" y1="871.50" x2="431.50" y2="876.80"/>
<line x1="529.50" y1="871.50" x2="529.50" y2="876.80"/>
<line x1="627.50" y1="871.50" x2="627.50" y2="876.80"/>
</g>
<g font-size="13.89px">
<text x="77.00" y="69.60" text-anchor="end">100</text>
<text x="77.00" y="307.60" text-anchor="end">200</text>
<text x="77.00" y="446.60" text-anchor="end">300</text>
<text x="77.00" y="545.60" text-anchor="end">400</text>
<text x="77.00" y="622.60" text-anchor="end">500</text>
<text x="77.00" y="684.60" text-anchor="end">600</text>
<text x="77.00" y="737.60" text-anchor="end">700</text>
<text x="77.00" y="783.60" text-anchor="end">800</text>
<text x="77.00" y="823.60" text-anchor="end">900</text>
<text x="77.00" y="860.60" text-anchor="end">1000</text>
<text x="136.90" y="891.95" text-anchor="middle">−20</text>
<text x="234.90" y="891.95" text-anchor="middle">−10</text>
<text x="333.90" y="891.95" text-anchor="middle">0</text>
<text x="431.90" y="891.95" text-anchor="middle">10</text>
<text x="529.90" y="891.95" text-anchor="middle">20</text>
<text x="627.90" y="891.95" text-anchor="middle">30</text>
<text x="357.5" y="911.5" text-anchor="middle">Temperature (℃)</text>
<text transform="translate(32.3,468.7) rotate(-90)" text-anchor="middle">Isobaric Height (hPa)</text>
</g>
<text x="447.5" y="21" font-size="25px" text-anchor="middle" textLength="895.3" lengthAdjust="spacingAndGlyphs">Miller Field Airport, NE; Model Run 2026-04-05 12 UTC; WRF Domain 02</text>
<text x="357.8" y="55.6" font-size="20.83px" text-anchor="middle" xml:space="preserve">2026-04-06 02 UTC  (2026-04-05 21 CDT)</text>
<g font-size="13.89px">
<text x="195.1" y="86.0" text-anchor="end">LCL Height:</text>
<text x="199.7" y="86.0">1797.0 m</text>
<text x="195.1" y="104.0" text-anchor="end">LFC Height:</text>
<text x="199.7" y="104.0">nan m</text>
<text x="195.1" y="122.0" text-anchor="end">MLLR:</text>
<text x="199.7" y="122.0">6.3 K</text>
<text x="195.1" y="140.0" text-anchor="end">SBCAPE:</text>
<text x="199.7" y="140.0">0.0 J/kg</text>
<text x="195.1" y="158.0" text-anchor="end">SBCIN:</text>
<text x="199.7" y="158.0">0.0 J/kg</text>
<text x="195.1" y="176.0" text-anchor="end">MLCAPE:</text>
<text x="199.7" y="176.0">0.0 J/kg</text>
<text x="195.1" y="194.0" text-anchor="end">MLCIN:</text>
<text x="199.7" y="194.0">0.0 J/kg</text>
<text x="195.1" y="212.0" text-anchor="end">MUCAPE:</text>
<text x="199.7" y="212.0">0.0 J/kg</text>
<text x="195.1" y="230.0" text-anchor="end">Shear 0-1 km:</text>
<text x="199.7" y="230.0">8.0 m/s</text>
<text x="195.1" y="248.0" text-anchor="end">Shear 0-6 km:</text>
<text x="199.7" y="248.0">30.2 m/s</text>
<text x="195.1" y="266.0" text-anchor="end">SRH 0-1 km:</text>
<text x="199.7" y="266.0">-84.9 m²/s²</text>
<text x="195.1" y="284.0" text-anchor="end">SRH 0-3 km:</text>
<text x="199.7" y="284.0">-93.3 m²/s²</text>
</g>
<circle cx="297.4" cy="871.5" r="22" fill="#00255a" stroke="#9aa3b5" stroke-width="0.8"/>
<path d="M297.4 871.5V850M297.4 871.5H283.9" stroke="#fff" stroke-width="1.2" fill="none"/>
<text x="298.3" y="834.9" font-size="13.89px" text-anchor="middle">Sun-CDT</text>
<g clip-path="url(#hd)" fill="none" stroke="#808080">
<circle transform="translate(807.00,176.93) scale(1,-1)" cx="0" cy="0" r="23.62" stroke-width="1.39" stroke-dasharray="5.14 2.22"/>
<circle transform="translate(807.00,176.93) scale(1,-1)" cx="0" cy="0" r="47.25" stroke-width="1.39" stroke-dasharray="5.14 2.22"/>
<circle transform="translate(807.00,176.93) scale(1,-1)" cx="0" cy="0" r="70.88" stroke-width="1.39" stroke-dasharray="5.14 2.22"/>
<circle transform="translate(807.00,176.93) scale(1,-1)" cx="0" cy="0" r="94.50" stroke-width="1.39" stroke-dasharray="5.14 2.22"/>
<circle transform="translate(807.00,176.93) scale(1,-1)" cx="0" cy="0" r="118.12" stroke-width="1.39" stroke-dasharray="5.14 2.22"/>
<line x1="712.50" y1="177.00" x2="901.50" y2="177.00" stroke-width="2" stroke-dasharray="7.71 3.33"/>
<line x1="807.00" y1="271.43" x2="807.00" y2="82.43" stroke-width="2" stroke-dasharray="7.71 3.33"/>
</g>
<g clip-path="url(#hd)" fill="none" stroke-width="4.1" stroke-linecap="butt">
<line x1="795.77" y1="190.28" x2="794.67" y2="191.39" stroke="rgb(0,0,129)"/>
<line x1="794.67" y1="191.39" x2="793.56" y2="192.49" stroke="rgb(0,0,131)"/>
<line x1="793.56" y1="192.49" x2="792.46" y2="193.60" stroke="rgb(0,0,134)"/>
<line x1="792.46" y1="193.60" x2="791.36" y2="194.70" stroke="rgb(0,0,136)"/>
<line x1="791.36" y1="194.70" x2="791.20" y2="195.33" stroke="rgb(0,0,139)"/>
<line x1="791.20" y1="195.33" x2="791.04" y2="195.96" stroke="rgb(0,0,142)"/>
<line x1="791.04" y1="195.96" x2="790.88" y2="196.59" stroke="rgb(0,0,144)"/>
<line x1="790.88" y1="196.59" x2="790.73" y2="197.22" stroke="rgb(0,0,147)"/>
<line x1="790.73" y1="197.22" x2="792.15" y2="197.22" stroke="rgb(0,0,150)"/>
<line x1="792.15" y1="197.22" x2="793.56" y2="197.22" stroke="rgb(0,0,156)"/>
<line x1="793.56" y1="197.22" x2="794.98" y2="197.22" stroke="rgb(0,0,161)"/>
<line x1="794.98" y1="197.22" x2="796.40" y2="197.22" stroke="rgb(0,0,166)"/>
<line x1="796.40" y1="197.22" x2="797.98" y2="197.07" stroke="rgb(0,0,171)"/>
<line x1="797.98" y1="197.07" x2="799.56" y2="196.91" stroke="rgb(0,0,176)"/>
<line x1="799.56" y1="196.91" x2="801.14" y2="196.75" stroke="rgb(0,0,181)"/>
<line x1="801.14" y1="196.75" x2="802.71" y2="196.59" stroke="rgb(0,0,186)"/>
<line x1="802.71" y1="196.59" x2="804.13" y2="196.03" stroke="rgb(0,0,191)"/>
<line x1="804.13" y1="196.03" x2="805.55" y2="195.46" stroke="rgb(0,0,196)"/>
<line x1="805.55" y1="195.46" x2="806.97" y2="194.89" stroke="rgb(0,0,201)"/>
<line x1="806.97" y1="194.89" x2="808.39" y2="194.32" stroke="rgb(0,0,207)"/>
<line x1="808.39" y1="194.32" x2="809.34" y2="193.47" stroke="rgb(0,0,212)"/>
<line x1="809.34" y1="193.47" x2="810.28" y2="192.62" stroke="rgb(0,0,217)"/>
<line x1="810.28" y1="192.62" x2="811.23" y2="191.77" stroke="rgb(0,0,222)"/>
<line x1="811.23" y1="191.77" x2="812.18" y2="190.91" stroke="rgb(0,0,227)"/>
<line x1="812.18" y1="190.91" x2="812.97" y2="189.50" stroke="rgb(0,0,232)"/>
<line x1="812.97" y1="189.50" x2="813.75" y2="188.08" stroke="rgb(0,0,237)"/>
<line x1="813.75" y1="188.08" x2="814.54" y2="186.66" stroke="rgb(0,0,242)"/>
<line x1="814.54" y1="186.66" x2="815.33" y2="185.24" stroke="rgb(0,0,247)"/>
<line x1="815.33" y1="185.24" x2="816.59" y2="184.35" stroke="rgb(0,0,254)"/>
<line x1="816.59" y1="184.35" x2="817.85" y2="183.47" stroke="rgb(0,6,255)"/>
<line x1="817.85" y1="183.47" x2="819.12" y2="182.59" stroke="rgb(0,14,255)"/>
<line x1="819.12" y1="182.59" x2="820.38" y2="181.70" stroke="rgb(0,22,255)"/>
<line x1="820.38" y1="181.70" x2="821.48" y2="180.22" stroke="rgb(0,29,255)"/>
<line x1="821.48" y1="180.22" x2="822.59" y2="178.74" stroke="rgb(0,37,255)"/>
<line x1="822.59" y1="178.74" x2="823.69" y2="177.26" stroke="rgb(0,45,255)"/>
<line x1="823.69" y1="177.26" x2="824.79" y2="175.77" stroke="rgb(0,52,255)"/>
<line x1="824.79" y1="175.77" x2="825.58" y2="175.46" stroke="rgb(0,59,255)"/>
<line x1="825.58" y1="175.46" x2="826.37" y2="175.14" stroke="rgb(0,64,255)"/>
<line x1="826.37" y1="175.14" x2="827.16" y2="174.83" stroke="rgb(0,69,255)"/>
<line x1="827.16" y1="174.83" x2="827.95" y2="174.51" stroke="rgb(0,74,255)"/>
<line x1="827.95" y1="174.51" x2="829.21" y2="174.98" stroke="rgb(0,80,255)"/>
<line x1="829.21" y1="174.98" x2="830.47" y2="175.46" stroke="rgb(0,88,255)"/>
<line x1="830.47" y1="175.46" x2="831.74" y2="175.93" stroke="rgb(0,96,255)"/>
<line x1="831.74" y1="175.93" x2="833.00" y2="176.40" stroke="rgb(0,103,255)"/>
<line x1="833.00" y1="176.40" x2="834.57" y2="176.88" stroke="rgb(0,112,255)"/>
<line x1="834.57" y1="176.88" x2="836.15" y2="177.35" stroke="rgb(0,122,255)"/>
<line x1="836.15" y1="177.35" x2="837.73" y2="177.82" stroke="rgb(0,133,255)"/>
<line x1="837.73" y1="177.82" x2="839.31" y2="178.30" stroke="rgb(0,143,255)"/>
<line x1="839.31" y1="178.30" x2="840.57" y2="178.77" stroke="rgb(0,152,255)"/>
<line x1="840.57" y1="178.77" x2="841.83" y2="179.24" stroke="rgb(0,159,255)"/>
<line x1="841.83" y1="179.24" x2="843.09" y2="179.72" stroke="rgb(0,167,255)"/>
<line x1="843.09" y1="179.72" x2="844.35" y2="180.19" stroke="rgb(0,175,255)"/>
<line x1="844.35" y1="180.19" x2="845.14" y2="181.14" stroke="rgb(0,182,255)"/>
<line x1="845.14" y1="181.14" x2="845.93" y2="182.08" stroke="rgb(0,190,255)"/>
<line x1="845.93" y1="182.08" x2="846.72" y2="183.03" stroke="rgb(0,198,255)"/>
<line x1="846.72" y1="183.03" x2="847.51" y2="183.97" stroke="rgb(0,205,255)"/>
<line x1="847.51" y1="183.97" x2="847.98" y2="185.87" stroke="rgb(0,214,255)"/>
<line x1="847.98" y1="185.87" x2="848.45" y2="187.76" stroke="rgb(0,224,255)"/>
<line x1="848.45" y1="187.76" x2="848.93" y2="189.65" stroke="rgb(0,235,255)"/>
<line x1="848.93" y1="189.65" x2="849.40" y2="191.55" stroke="rgb(0,245,255)"/>
<line x1="849.40" y1="191.55" x2="849.87" y2="193.75" stroke="rgb(1,255,254)"/>
<line x1="849.87" y1="193.75" x2="850.35" y2="195.96" stroke="rgb(14,255,241)"/>
<line x1="850.35" y1="195.96" x2="850.82" y2="198.17" stroke="rgb(27,255,228)"/>
<line x1="850.82" y1="198.17" x2="851.29" y2="200.38" stroke="rgb(40,255,215)"/>
<line x1="851.29" y1="200.38" x2="851.45" y2="202.27" stroke="rgb(52,255,203)"/>
<line x1="851.45" y1="202.27" x2="851.61" y2="204.16" stroke="rgb(65,255,190)"/>
<line x1="851.61" y1="204.16" x2="851.77" y2="206.06" stroke="rgb(78,255,177)"/>
<line x1="851.77" y1="206.06" x2="851.92" y2="207.95" stroke="rgb(91,255,164)"/>
<line x1="851.92" y1="207.95" x2="852.56" y2="208.58" stroke="rgb(101,255,154)"/>
<line x1="852.56" y1="208.58" x2="853.19" y2="209.21" stroke="rgb(108,255,147)"/>
<line x1="853.19" y1="209.21" x2="853.82" y2="209.84" stroke="rgb(116,255,139)"/>
<line x1="853.82" y1="209.84" x2="854.45" y2="210.47" stroke="rgb(124,255,131)"/>
<line x1="854.45" y1="210.47" x2="856.03" y2="210.73" stroke="rgb(134,255,121)"/>
<line x1="856.03" y1="210.73" x2="857.60" y2="210.98" stroke="rgb(147,255,108)"/>
<line x1="857.60" y1="210.98" x2="859.18" y2="211.23" stroke="rgb(159,255,96)"/>
<line x1="859.18" y1="211.23" x2="860.76" y2="211.48" stroke="rgb(172,255,83)"/>
<line x1="860.76" y1="211.48" x2="862.33" y2="211.80" stroke="rgb(187,255,68)"/>
<line x1="862.33" y1="211.80" x2="863.91" y2="212.11" stroke="rgb(205,255,50)"/>
<line x1="863.91" y1="212.11" x2="865.49" y2="212.43" stroke="rgb(223,255,32)"/>
<line x1="865.49" y1="212.43" x2="867.07" y2="212.74" stroke="rgb(241,255,14)"/>
<line x1="867.07" y1="212.74" x2="868.33" y2="213.28" stroke="rgb(255,252,0)"/>
<line x1="868.33" y1="213.28" x2="869.59" y2="213.82" stroke="rgb(255,237,0)"/>
<line x1="869.59" y1="213.82" x2="870.85" y2="214.35" stroke="rgb(255,222,0)"/>
<line x1="870.85" y1="214.35" x2="872.11" y2="214.89" stroke="rgb(255,207,0)"/>
<line x1="872.11" y1="214.89" x2="873.06" y2="216.31" stroke="rgb(255,189,0)"/>
<line x1="873.06" y1="216.31" x2="874.01" y2="217.73" stroke="rgb(255,168,0)"/>
<line x1="874.01" y1="217.73" x2="874.95" y2="219.15" stroke="rgb(255,148,0)"/>
<line x1="874.95" y1="219.15" x2="875.90" y2="220.57" stroke="rgb(255,128,0)"/>
<line x1="875.90" y1="220.57" x2="876.69" y2="222.15" stroke="rgb(255,107,0)"/>
<line x1="876.69" y1="222.15" x2="877.48" y2="223.72" stroke="rgb(255,87,0)"/>
<line x1="877.48" y1="223.72" x2="878.26" y2="225.30" stroke="rgb(255,66,0)"/>
<line x1="878.26" y1="225.30" x2="879.05" y2="226.88" stroke="rgb(255,46,0)"/>
<line x1="879.05" y1="226.88" x2="879.53" y2="227.44" stroke="rgb(255,28,0)"/>
<line x1="879.53" y1="227.44" x2="880.00" y2="228.01" stroke="rgb(255,13,0)"/>
<line x1="880.00" y1="228.01" x2="880.47" y2="228.58" stroke="rgb(252,0,0)"/>
<line x1="880.47" y1="228.58" x2="880.95" y2="229.15" stroke="rgb(237,0,0)"/>
<line x1="880.95" y1="229.15" x2="881.32" y2="229.05" stroke="rgb(226,0,0)"/>
<line x1="881.32" y1="229.05" x2="881.70" y2="228.96" stroke="rgb(218,0,0)"/>
<line x1="881.70" y1="228.96" x2="882.08" y2="228.86" stroke="rgb(210,0,0)"/>
<line x1="882.08" y1="228.86" x2="882.46" y2="228.77" stroke="rgb(203,0,0)"/>
<line x1="882.46" y1="228.77" x2="882.78" y2="229.09" stroke="rgb(195,0,0)"/>
<line x1="882.78" y1="229.09" x2="883.09" y2="229.40" stroke="rgb(187,0,0)"/>
<line x1="883.09" y1="229.40" x2="883.41" y2="229.72" stroke="rgb(180,0,0)"/>
<line x1="883.41" y1="229.72" x2="883.72" y2="230.03" stroke="rgb(172,0,0)"/>
</g>
<rect x="713.50" y="268.9" width="73.6" height="3.1" fill="#00255a"/>
<g stroke="#00255a" stroke-width="1.05" fill="none">
<line x1="713.50" y1="82.00" x2="713.50" y2="272.00"/>
<line x1="713.00" y1="271.50" x2="903.00" y2="271.50"/>
<line x1="713.50" y1="271.50" x2="713.50" y2="276.80"/>
<line x1="708.20" y1="271.50" x2="713.50" y2="271.50"/>
<line x1="760.50" y1="271.50" x2="760.50" y2="276.80"/>
<line x1="708.20" y1="224.50" x2="713.50" y2="224.50"/>
<line x1="807.50" y1="271.50" x2="807.50" y2="276.80"/>
<line x1="708.20" y1="177.50" x2="713.50" y2="177.50"/>
<line x1="854.50" y1="271.50" x2="854.50" y2="276.80"/>
<line x1="708.20" y1="130.50" x2="713.50" y2="130.50"/>
<line x1="902.50" y1="271.50" x2="902.50" y2="276.80"/>
<line x1="708.20" y1="82.50" x2="713.50" y2="82.50"/>
</g>
<g font-size="13.89px">
<text x="713.00" y="291.95" text-anchor="middle">−40</text>
<text x="702.40" y="276.60" text-anchor="end">−40</text>
<text x="760.70" y="291.95" text-anchor="middle">−20</text>
<text x="702.40" y="229.60" text-anchor="end">−20</text>
<text x="808.20" y="291.95" text-anchor="middle">0</text>
<text x="702.40" y="182.60" text-anchor="end">0</text>
<text x="854.70" y="291.95" text-anchor="middle">20</text>
<text x="702.40" y="135.60" text-anchor="end">20</text>
<text x="902.70" y="291.95" text-anchor="middle">40</text>
<text x="702.40" y="87.60" text-anchor="end">40</text>
<text x="807.6" y="306.6" text-anchor="middle">u (m s<tspan dy="-5.3" font-size="9.72px">−1</tspan><tspan dy="5.3">)</tspan></text>
<text transform="translate(671.5,176.9) rotate(-90)" text-anchor="middle">v (m s<tspan dy="-5.3" font-size="9.72px">−1</tspan><tspan dy="5.3">)</tspan></text>
</g>
<rect x="672.50" y="312.50" width="270.00" height="13.00" fill="url(#jet)" stroke="#00255a" stroke-width="1.05"/>
<g stroke="#00255a" stroke-width="1.05">
<line x1="672.50" y1="325.50" x2="672.50" y2="330.80"/>
<line x1="726.50" y1="325.50" x2="726.50" y2="330.80"/>
<line x1="780.50" y1="325.50" x2="780.50" y2="330.80"/>
<line x1="834.50" y1="325.50" x2="834.50" y2="330.80"/>
<line x1="888.50" y1="325.50" x2="888.50" y2="330.80"/>
<line x1="942.50" y1="325.50" x2="942.50" y2="330.80"/>
</g>
<g font-size="13.89px" text-anchor="middle">
<text x="673.10" y="345.90">0</text>
<text x="727.10" y="345.90">2</text>
<text x="781.70" y="345.90">4</text>
<text x="834.10" y="345.90">6</text>
<text x="889.10" y="345.90">8</text>
<text x="943.10" y="345.90">10</text>
<text x="807.4" y="366.0">Height (km AGL)</text>
</g>
</svg>
</body></html>
